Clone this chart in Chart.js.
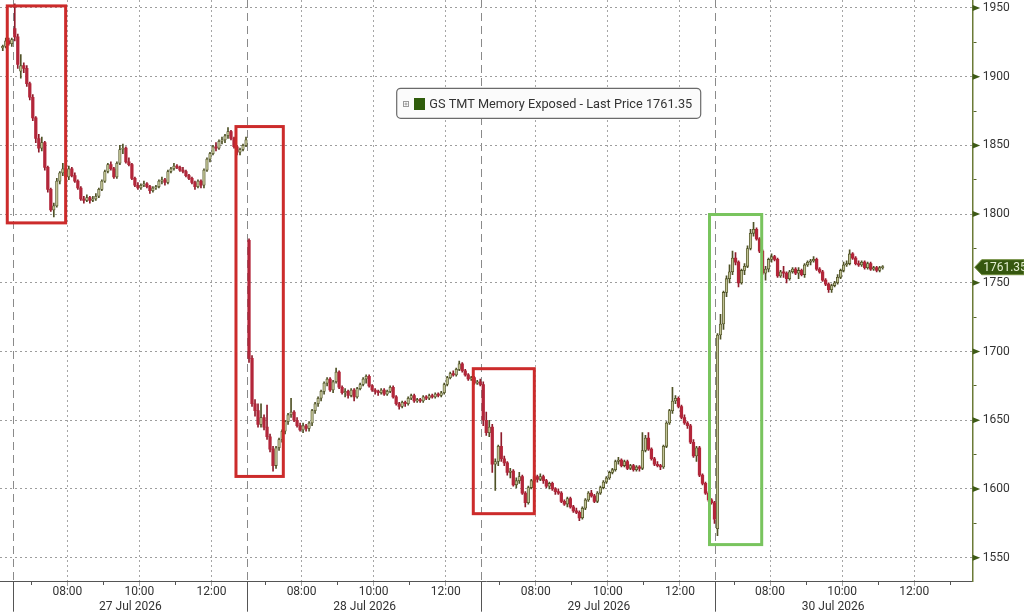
<!DOCTYPE html>
<html>
<head>
<meta charset="utf-8">
<script src="https://cdn.jsdelivr.net/npm/chart.js@4.4.1/dist/chart.umd.min.js"></script>
<style>
  html, body { margin: 0; padding: 0; background: #fff; }
  #wrap { width: 1024px; height: 612px; }
</style>
</head>
<body>
<div id="wrap"><canvas id="myChart" width="1024" height="612"></canvas></div>
<script>
"use strict"

// ---- data ----------------------------------------------------------------
const dayLabels = ['27 Jul 2026', '28 Jul 2026', '29 Jul 2026', '30 Jul 2026'];
const hourLabels = ['08:00', '10:00', '12:00'];
const yTickLabels = [1550, 1600, 1650, 1700, 1750, 1800, 1850, 1900, 1950];
const seriesName = 'GS TMT Memory Exposed - Last Price';
const lastPrice = 1761.35;

// 5 minute bars: [open, high, low, close]
const jul24 = [[1921,1923,1919,1922],[1922,1928,1921,1926],[1926,1928,1923,1924],[1924,1928,1922,1927]];

const jul27 = [
  [1935,1953,1926,1929],[1929,1931,1906,1909],[1904,1916,1899,1908],[1908,1910,1903,1906],
  [1906,1908,1893,1895],[1895,1896,1883,1885],[1885,1887,1868,1870],[1870,1871,1852,1855],
  [1855,1858,1845,1848],[1848,1856,1846,1852],[1852,1853,1832,1834],[1834,1835,1816,1818],
  [1818,1819,1802,1803],[1803,1808,1798,1806],[1806,1826,1805,1824],[1824,1831,1822,1830],
  [1830,1837,1828,1833],[1833,1835,1826,1827],[1827,1835,1825,1833],[1833,1834,1827,1828],
  [1828,1830,1823,1824],[1824,1825,1818,1819],[1819,1820,1810,1811],[1811,1813,1808,1810],
  [1810,1814,1809,1812],[1812,1813,1808,1810],[1810,1813,1809,1811],[1811,1815,1810,1813],
  [1813,1819,1812,1818],[1818,1825,1817,1824],[1824,1832,1823,1831],[1831,1837,1830,1836],
  [1836,1838,1832,1833],[1833,1834,1826,1827],[1827,1838,1826,1837],[1837,1850,1836,1847],
  [1847,1851,1844,1848],[1848,1849,1837,1838],[1838,1841,1835,1836],[1836,1837,1825,1826],
  [1826,1827,1820,1821],[1821,1823,1818,1819],[1819,1822,1818,1821],[1821,1824,1820,1822],
  [1822,1823,1819,1820],[1820,1821,1815,1817],[1817,1820,1816,1819],[1819,1821,1818,1820],
  [1820,1825,1819,1824],[1824,1827,1822,1825],[1825,1826,1821,1823],[1823,1832,1822,1831],
  [1831,1834,1830,1833],[1833,1837,1832,1835],[1835,1836,1833,1834],[1834,1835,1831,1832],
  [1832,1834,1830,1831],[1831,1832,1827,1828],[1828,1829,1825,1826],[1826,1827,1822,1823],
  [1823,1824,1818,1820],[1820,1825,1819,1824],[1824,1825,1819,1821],[1821,1833,1819,1832],
  [1832,1841,1831,1840],[1840,1845,1838,1844],[1844,1850,1843,1849],[1849,1852,1846,1848],
  [1848,1854,1847,1853],[1853,1856,1851,1854],[1854,1858,1852,1857],[1857,1863,1855,1860],
  [1860,1861,1854,1855],[1855,1856,1848,1849],[1849,1850,1843,1845],[1845,1848,1843,1847],
  [1847,1851,1846,1850],[1850,1856,1849,1854]
];

const jul28 = [
  [1781,1782,1692,1695],[1695,1697,1660,1662],[1662,1665,1653,1657],[1657,1662,1645,1647],
  [1647,1662,1645,1652],[1652,1654,1643,1645],[1645,1661,1636,1638],[1638,1640,1627,1629],
  [1629,1631,1613,1617],[1617,1631,1615,1630],[1630,1637,1628,1636],[1636,1643,1634,1642],
  [1642,1650,1640,1649],[1649,1655,1647,1654],[1654,1666,1652,1656],[1656,1657,1649,1650],
  [1650,1652,1645,1646],[1646,1648,1642,1643],[1643,1648,1641,1646],[1646,1647,1642,1644],
  [1644,1649,1642,1648],[1648,1658,1646,1657],[1657,1663,1655,1662],[1662,1667,1660,1666],
  [1666,1672,1664,1671],[1671,1678,1669,1677],[1677,1681,1675,1680],[1680,1681,1671,1672],
  [1672,1679,1670,1678],[1678,1688,1677,1685],[1685,1686,1673,1674],[1674,1675,1669,1670],
  [1670,1673,1667,1671],[1671,1672,1666,1668],[1668,1673,1667,1672],[1672,1673,1664,1667],
  [1667,1674,1666,1673],[1673,1677,1672,1676],[1676,1681,1675,1680],[1680,1683,1677,1682],
  [1682,1683,1674,1675],[1675,1676,1671,1672],[1672,1673,1669,1671],[1671,1672,1668,1670],
  [1670,1673,1669,1672],[1672,1673,1668,1669],[1669,1672,1668,1671],[1671,1675,1670,1674],
  [1674,1675,1666,1667],[1667,1668,1661,1662],[1662,1663,1658,1660],[1660,1664,1659,1663],
  [1663,1664,1660,1662],[1662,1667,1661,1666],[1666,1669,1665,1668],[1668,1669,1663,1664],
  [1664,1666,1663,1665],[1665,1666,1663,1664],[1664,1668,1663,1667],[1667,1668,1665,1666],
  [1666,1669,1665,1668],[1668,1669,1666,1667],[1667,1670,1666,1669],[1669,1670,1667,1668],
  [1668,1671,1667,1670],[1670,1677,1669,1676],[1676,1682,1675,1681],[1681,1685,1680,1684],
  [1684,1686,1682,1683],[1683,1688,1682,1687],[1687,1693,1686,1691],[1691,1692,1685,1686],
  [1686,1687,1682,1683],[1683,1684,1679,1680],[1680,1682,1679,1681],[1681,1682,1676,1677],
  [1677,1679,1676,1678],[1678,1680,1675,1676]
];

const jul29 = [
  [1676,1678,1646,1650],[1650,1656,1639,1641],[1641,1650,1638,1645],[1645,1647,1612,1618],
  [1618,1622,1599,1620],[1620,1632,1617,1631],[1631,1641,1620,1622],[1622,1624,1617,1619],
  [1619,1620,1610,1612],[1612,1615,1608,1613],[1613,1614,1602,1603],[1603,1608,1601,1606],
  [1606,1612,1604,1609],[1609,1610,1596,1597],[1597,1598,1587,1590],[1590,1602,1589,1601],
  [1601,1607,1600,1606],[1606,1610,1605,1609],[1609,1610,1605,1607],[1607,1611,1606,1609],
  [1609,1610,1604,1606],[1606,1607,1601,1602],[1602,1605,1600,1604],[1604,1605,1599,1600],
  [1600,1601,1596,1598],[1598,1600,1596,1597],[1597,1598,1590,1591],[1591,1592,1588,1589],
  [1589,1594,1587,1593],[1593,1594,1586,1587],[1587,1588,1583,1584],[1584,1586,1582,1583],
  [1583,1584,1577,1579],[1579,1587,1578,1586],[1586,1593,1585,1592],[1592,1598,1591,1597],
  [1597,1599,1594,1595],[1595,1596,1590,1591],[1591,1598,1590,1597],[1597,1602,1596,1601],
  [1601,1606,1600,1605],[1605,1609,1604,1608],[1608,1613,1607,1612],[1612,1615,1611,1614],
  [1614,1621,1613,1620],[1620,1623,1618,1621],[1621,1622,1616,1617],[1617,1621,1616,1620],
  [1620,1621,1614,1615],[1615,1618,1614,1617],[1617,1618,1613,1614],[1614,1617,1613,1616],
  [1616,1617,1613,1615],[1615,1641,1614,1628],[1628,1639,1627,1637],[1637,1641,1628,1629],
  [1629,1630,1621,1622],[1622,1623,1617,1618],[1618,1620,1616,1617],[1617,1618,1614,1616],
  [1616,1632,1615,1631],[1631,1649,1630,1648],[1648,1658,1647,1657],[1657,1674,1655,1664],
  [1664,1668,1662,1666],[1666,1667,1659,1660],[1660,1661,1651,1652],[1652,1654,1647,1648],
  [1648,1649,1644,1646],[1646,1647,1633,1634],[1634,1636,1623,1624],[1624,1631,1620,1630],
  [1630,1631,1609,1610],[1610,1611,1603,1604],[1604,1605,1596,1597],[1597,1598,1591,1592],
  [1592,1593,1589,1590],[1590,1591,1575,1578]
];

const jul30 = [
  [1571,1713,1566,1712],[1712,1727,1709,1720],[1720,1744,1716,1743],[1743,1755,1740,1753],
  [1753,1763,1750,1758],[1758,1773,1756,1768],[1768,1772,1763,1765],[1765,1766,1747,1750],
  [1750,1760,1749,1759],[1759,1764,1756,1762],[1762,1777,1761,1775],[1775,1789,1774,1786],
  [1786,1794,1784,1789],[1789,1790,1781,1782],[1782,1783,1772,1773],[1773,1774,1756,1757],
  [1757,1762,1752,1760],[1760,1768,1758,1767],[1767,1771,1765,1769],[1769,1770,1766,1767],
  [1767,1768,1754,1755],[1755,1759,1754,1758],[1758,1762,1754,1757],[1757,1758,1750,1753],
  [1753,1759,1752,1758],[1758,1761,1757,1760],[1760,1761,1756,1757],[1757,1761,1753,1759],
  [1759,1760,1755,1756],[1756,1764,1754,1763],[1763,1766,1762,1765],[1765,1767,1763,1766],
  [1766,1769,1765,1767],[1767,1768,1759,1760],[1760,1761,1757,1758],[1758,1759,1751,1752],
  [1752,1753,1748,1749],[1749,1750,1743,1745],[1745,1749,1743,1748],[1748,1751,1747,1750],
  [1750,1756,1749,1754],[1754,1760,1753,1759],[1759,1765,1758,1763],[1763,1766,1762,1764],
  [1764,1774,1763,1771],[1771,1772,1767,1768],[1768,1769,1763,1764],[1764,1766,1762,1763],
  [1763,1766,1762,1765],[1765,1766,1760,1761],[1761,1765,1760,1764],[1764,1765,1759,1760],
  [1760,1762,1759,1761],[1761,1762,1758,1759],[1759,1762,1758,1761],[1761,1762.5,1760,1761.35]
];

// highlighted regions: [fromMinute, toMinute, topPrice, bottomPrice]
const redBoxes = [
  [-10.0, 87.2, 1951.5, 1793.6],
  [370.8, 449.6, 1863.7, 1609.1],
  [765.9, 867.5, 1687.5, 1582.0]
];
const greenBoxes = [
  [1159.2, 1246.1, 1799.7, 1559.5]
];

// ---- layout of the time axis (trading minutes since 27 Jul 06:30) --------
const SESSION = 390;
const BAR = 5;
const days = [jul27, jul28, jul29, jul30];

const UP_FILL = '#c1c395';
const UP_LINE = '#4f5226';
const DOWN_FILL = '#b3263a';
const DOWN_LINE = '#8e1b2b';

function makeCandle(x, b) {
  return { x: x, o: b[0], h: b[1], l: b[2], c: b[3], up: b[3] >= b[0] };
}

let candles = [];
jul24.forEach((b, i) => candles.push(makeCandle(-BAR * (jul24.length - i) + BAR / 2, b)));
days.forEach((day, d) => {
  day.forEach((b, k) => candles.push(makeCandle(d * SESSION + k * BAR + BAR / 2, b)));
});

// x ticks: session opens, hour marks, half marks, session centres for dates
let xTicks = [];
days.forEach((day, d) => {
  let base = d * SESSION;
  xTicks.push({ value: base, kind: 'day', label: '' });
  [30, 150, 270].forEach(m => xTicks.push({ value: base + m, kind: 'minor', label: '' }));
  hourLabels.forEach((h, j) => xTicks.push({ value: base + 90 + j * 120, kind: 'hour', label: h }));
  xTicks.push({ value: base + SESSION / 2, kind: 'date', label: ['', dayLabels[d]] });
});
xTicks.push({ value: days.length * SESSION, kind: 'minor', label: '' });
xTicks.sort((a, b) => a.value - b.value);

let yTicks = [];
yTickLabels.forEach(v => {
  yTicks.push({ value: v, major: true });
  if (v + 25 < 1955) yTicks.push({ value: v + 25, major: false });
});

function xKind(ctx) {
  let t = xTicks[ctx.index];
  return ctx.tick && t ? t.kind : '';
}
function yMajor(ctx) {
  return ctx.tick ? ctx.tick.value % 50 === 0 : false;
}

// ---- extra drawing: highlight boxes, axis arrows, price tag, legend ------
const decorations = {
  id: 'decorations',
  afterDatasetsDraw(chart) {
    const { ctx, scales: { x, y } } = chart;
    ctx.save();
    ctx.lineWidth = 3;
    ctx.strokeStyle = '#cc2b2b';
    redBoxes.forEach(b => {
      let x0 = x.getPixelForValue(b[0]), x1 = x.getPixelForValue(b[1]);
      let y0 = y.getPixelForValue(b[2]), y1 = y.getPixelForValue(b[3]);
      ctx.strokeRect(x0, y0, x1 - x0, y1 - y0);
    });
    ctx.strokeStyle = '#79c45e';
    greenBoxes.forEach(b => {
      let x0 = x.getPixelForValue(b[0]), x1 = x.getPixelForValue(b[1]);
      let y0 = y.getPixelForValue(b[2]), y1 = y.getPixelForValue(b[3]);
      ctx.strokeRect(x0, y0, x1 - x0, y1 - y0);
    });
    ctx.restore();
  },
  afterDraw(chart) {
    const { ctx, scales: { y } } = chart;
    ctx.save();

    // arrow heads on the price axis
    let ax = y.left;
    ctx.fillStyle = '#3e5a16';
    yTickLabels.forEach(v => {
      let py = y.getPixelForValue(v);
      ctx.beginPath();
      ctx.moveTo(ax, py - 3);
      ctx.lineTo(ax + 7.5, py);
      ctx.lineTo(ax, py + 3);
      ctx.closePath();
      ctx.fill();
    });

    // last price tag
    let py = y.getPixelForValue(lastPrice);
    ctx.beginPath();
    ctx.moveTo(ax + 2, py);
    ctx.lineTo(ax + 9, py - 7.5);
    ctx.lineTo(1024, py - 7.5);
    ctx.lineTo(1024, py + 7.5);
    ctx.lineTo(ax + 9, py + 7.5);
    ctx.closePath();
    ctx.fillStyle = '#35570f';
    ctx.fill();
    ctx.strokeStyle = '#6f8c3c';
    ctx.lineWidth = 1;
    ctx.stroke();
    ctx.fillStyle = '#e4efd2';
    ctx.font = '12px Roboto';
    ctx.textBaseline = 'middle';
    ctx.textAlign = 'left';
    ctx.fillText(lastPrice.toFixed(2), ax + 10.5, py + 0.5);

    // legend box
    let lx = 396.7, ly = 88.3, lw = 304, lh = 30;
    ctx.beginPath();
    ctx.roundRect(lx, ly, lw, lh, 4);
    ctx.fillStyle = '#fbfbfb';
    ctx.fill();
    ctx.strokeStyle = '#6a6a6a';
    ctx.lineWidth = 1.2;
    ctx.stroke();

    ctx.strokeStyle = '#9a9a9a';
    ctx.lineWidth = 1;
    ctx.strokeRect(403.5, 101.5, 5, 5);
    ctx.beginPath();
    ctx.moveTo(404.5, 104); ctx.lineTo(407.5, 104);
    ctx.moveTo(406, 102.5); ctx.lineTo(406, 105.5);
    ctx.stroke();

    ctx.fillStyle = '#2f5c0b';
    ctx.fillRect(414, 98, 11, 12);

    let text = seriesName + ' ' + lastPrice.toFixed(2);
    ctx.font = '13px Roboto';
    let w = ctx.measureText(text).width;
    let size = 13 * 263 / w;
    ctx.font = size.toFixed(2) + 'px Roboto';
    ctx.fillStyle = '#333333';
    ctx.fillText(text, 429.3, 104.5);

    ctx.restore();
  }
};

// ---- chart ---------------------------------------------------------------
Chart.defaults.font.family = 'Roboto';

let myChart = document.getElementById('myChart').getContext('2d');

let priceChart = new Chart(myChart, {
  type: 'bar',
  data: {
    datasets: [{
      label: 'wicks',
      data: candles.map(c => ({ x: c.x, y: [c.l, c.h], up: c.up })),
      backgroundColor: ctx => (ctx.raw && ctx.raw.up ? UP_LINE : DOWN_LINE),
      barThickness: 1,
      grouped: false,
      order: 2
    }, {
      label: seriesName,
      data: candles.map(c => ({ x: c.x, y: [c.o, c.c], up: c.up })),
      backgroundColor: ctx => (ctx.raw && ctx.raw.up ? UP_FILL : DOWN_FILL),
      borderColor: ctx => (ctx.raw && ctx.raw.up ? UP_LINE : DOWN_LINE),
      borderWidth: ctx => (ctx.raw && ctx.raw.up ? 0.8 : 0),
      borderSkipped: false,
      barThickness: 2.6,
      minBarLength: 1,
      grouped: false,
      order: 1
    }]
  },
  options: {
    responsive: false,
    animation: false,
    devicePixelRatio: 1,
    events: [],
    layout: { padding: 0 },
    plugins: {
      legend: { display: false },
      tooltip: { enabled: false }
    },
    scales: {
      x: {
        type: 'linear',
        position: 'bottom',
        min: -22.1,
        max: 1597.4,
        offset: false,
        afterBuildTicks: s => { s.ticks = xTicks.map(t => ({ value: t.value })); },
        afterFit: s => { s.height = 30.3; s.paddingLeft = 0; s.paddingRight = 0; },
        ticks: {
          autoSkip: false,
          maxRotation: 0,
          minRotation: 0,
          padding: -27.7,
          color: '#333333',
          font: { size: 12, lineHeight: 1.28 },
          callback: (v, i) => (xTicks[i] ? xTicks[i].label : '')
        },
        grid: {
          offset: false,
          lineWidth: 1,
          tickLength: 30,
          tickWidth: 1,
          color: ctx => {
            let k = xKind(ctx);
            if (k === 'hour') return '#a6a6a6';
            if (k === 'day') return '#8a8a8a';
            return 'rgba(0,0,0,0)';
          },
          tickColor: ctx => {
            let k = xKind(ctx);
            if (k === 'day') return '#555555';
            if (k === 'hour') return '#a6a6a6';
            if (k === 'minor') return '#555555';
            return 'rgba(0,0,0,0)';
          },
          tickBorderDash: ctx => {
            let k = xKind(ctx);
            if (k === 'hour') return [4, 100];
            if (k === 'minor') return [3, 100];
            return [];
          }
        },
        border: {
          color: '#555555',
          width: 1,
          dash: ctx => {
            let k = xKind(ctx);
            if (k === 'hour') return [2, 3];
            if (k === 'day') return [8, 5];
            return [];
          }
        }
      },
      y: {
        type: 'linear',
        position: 'right',
        min: 1532.5,
        max: 1955.8,
        afterBuildTicks: s => { s.ticks = yTicks.map(t => ({ value: t.value })); },
        afterFit: s => { s.width = 51.3; s.paddingTop = 0; s.paddingBottom = 0; },
        ticks: {
          padding: 2,
          color: '#333333',
          font: { size: 12 },
          callback: v => (v % 50 === 0 ? String(v) : '')
        },
        grid: {
          lineWidth: 1,
          tickLength: 8,
          tickWidth: 1,
          color: ctx => (yMajor(ctx) ? '#9d9d9d' : 'rgba(0,0,0,0)'),
          tickColor: ctx => (yMajor(ctx) ? 'rgba(0,0,0,0)' : '#55642a'),
          tickBorderDash: ctx => (yMajor(ctx) ? [] : [3, 100])
        },
        border: {
          color: '#6b7b37',
          width: 1.5,
          dash: ctx => (yMajor(ctx) ? [2, 3] : [])
        }
      }
    }
  },
  plugins: [decorations]
});
</script>
</body>
</html>
